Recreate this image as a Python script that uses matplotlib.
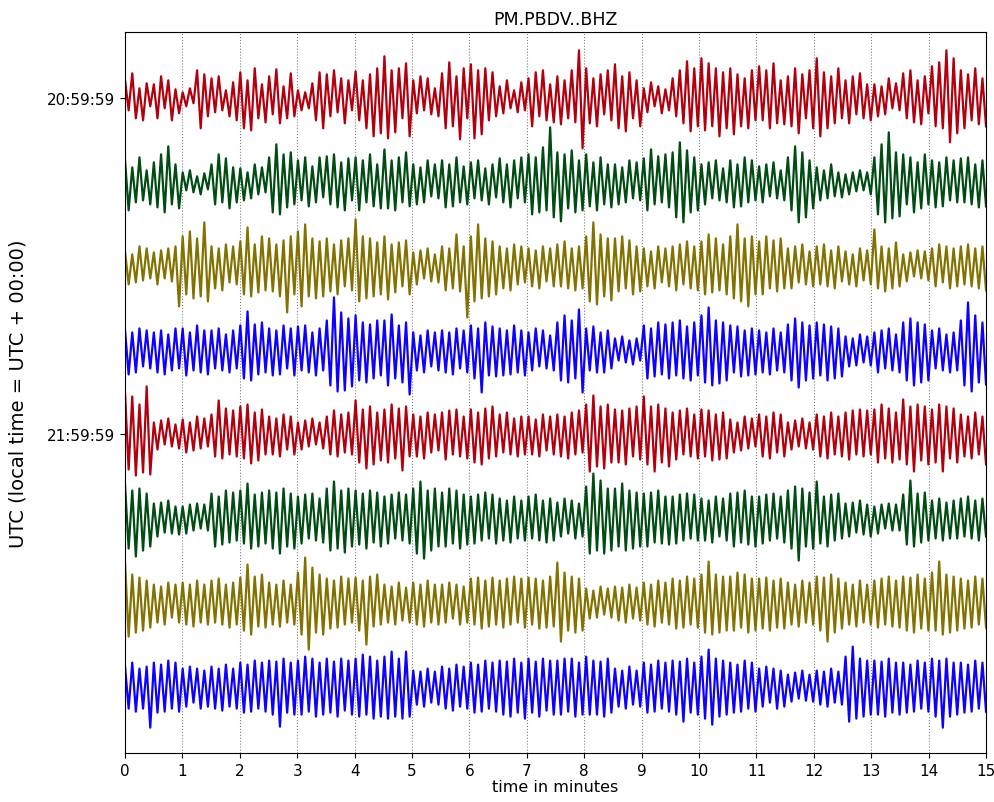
import numpy as np
import matplotlib
matplotlib.use("Agg")
import matplotlib.pyplot as plt

# extrema of each 15-minute trace, 8 per half minute, in screen counts
# (trace spacing = 84 counts)
trace_0 = [
    18, -12, 25, -20, 10, -22, 15, -8, 14, -20, 22, -10, 18, -22, 9, -15,
    6, -8, 10, -5, 28, -30, 24, -18, 20, -14, 22, -12, 8, -18, 16, -22,
    26, -30, 18, -32, 30, -20, 14, -24, 22, -16, 29, -25, 12, -20, 25, -18,
    8, -12, 6, -10, 15, -22, 26, -30, 24, -18, 28, -14, 20, -25, 18, -12,
    27, -22, 18, -30, 24, -38, 30, -35, 42, -40, 28, -34, 30, -20, 35, -38,
    18, -15, 22, -12, 20, -16, 10, -18, 25, -30, 36, -28, 22, -41, 30, -20,
    34, -40, 28, -36, 30, -22, 26, -18, 12, -15, 18, -10, 8, -14, 16, -12,
    20, -28, 26, -18, 28, -22, 14, -24, 22, -26, 18, -20, 28, -24, 48, -50,
    30, -25, 20, -28, 24, -16, 28, -22, 34, -30, 22, -33, 26, -20, 18, -28,
    10, -14, 16, -8, 12, -15, 9, -12, 20, -18, 28, -25, 37, -33, 30, -28,
    40, -32, 35, -28, 30, -38, 26, -30, 30, -36, 24, -28, 20, -30, 28, -22,
    32, -22, 28, -30, 35, -25, 18, -26, 22, -28, 30, -35, 24, -20, 28, -30,
    40, -38, 26, -30, 22, -25, 30, -20, 18, -25, 22, -16, 25, -20, 14, -22,
    14, -18, 12, -16, 20, -10, 15, -12, 25, -20, 28, -24, 18, -26, 22, -15,
    32, -28, 36, -30, 48, -44, 40, -35, 28, -30, 24, -22, 30, -26, 20, -28,
]
trace_1 = [
    22, -28, 15, -20, 25, -18, 12, -22, 20, -25, 28, -30, 36, -22, 18, -26,
    10, -8, 12, -10, 6, -12, 9, -7, 18, -22, 28, -20, 24, -26, 15, -20,
    14, -18, 10, -16, 18, -12, 15, -10, 25, -30, 38, -32, 28, -25, 30, -22,
    22, -18, 25, -24, 16, -20, 25, -15, 26, -22, 28, -25, 20, -28, 24, -18,
    25, -28, 22, -20, 28, -24, 18, -26, 33, -26, 22, -28, 25, -20, 30, -24,
    18, -22, 15, -20, 22, -14, 18, -16, 22, -25, 18, -24, 25, -20, 16, -22,
    20, -16, 22, -18, 14, -22, 18, -15, 24, -20, 18, -25, 22, -16, 25, -20,
    28, -32, 25, -30, 35, -28, 55, -35, 30, -39, 28, -26, 32, -30, 22, -28,
    28, -24, 20, -28, 25, -22, 18, -25, 18, -22, 15, -20, 22, -16, 20, -18,
    24, -28, 33, -22, 26, -20, 28, -25, 30, -35, 40, -40, 32, -30, 25, -28,
    18, -22, 20, -16, 22, -18, 14, -20, 22, -25, 18, -24, 25, -20, 22, -18,
    16, -20, 18, -14, 20, -16, 12, -18, 25, -28, 36, -40, 30, -35, 22, -26,
    15, -18, 12, -16, 18, -14, 10, -15, 8, -12, 10, -9, 12, -8, 10, -12,
    25, -32, 38, -40, 50, -36, 30, -34, 28, -22, 25, -30, 20, -26, 28, -22,
    22, -25, 20, -24, 25, -18, 22, -20, 24, -20, 25, -22, 18, -25, 22, -24,
]
trace_2 = [
    15, -18, 12, -16, 20, -14, 18, -12, 14, -18, 16, -12, 18, -15, 20, -40,
    30, -28, 35, -32, 28, -30, 44, -35, 20, -22, 18, -24, 22, -16, 20, -18,
    25, -28, 39, -30, 22, -26, 30, -24, 28, -25, 22, -30, 26, -46, 30, -28,
    35, -40, 42, -30, 28, -32, 25, -30, 28, -25, 22, -28, 26, -20, 28, -24,
    47, -35, 30, -32, 28, -30, 24, -28, 30, -33, 22, -26, 24, -20, 26, -28,
    14, -18, 16, -12, 18, -15, 12, -16, 20, -24, 18, -22, 32, -25, 20, -51,
    30, -35, 42, -32, 28, -30, 25, -28, 20, -22, 18, -24, 22, -18, 20, -16,
    18, -20, 16, -22, 20, -15, 18, -20, 22, -20, 25, -22, 18, -24, 20, -22,
    30, -35, 44, -38, 32, -30, 28, -34, 28, -25, 30, -22, 26, -28, 20, -25,
    18, -20, 15, -22, 20, -16, 18, -20, 20, -24, 22, -18, 25, -22, 20, -24,
    25, -28, 32, -26, 28, -24, 22, -28, 30, -32, 42, -35, 28, -40, 30, -28,
    25, -28, 30, -22, 26, -25, 28, -22, 18, -22, 20, -16, 22, -18, 15, -20,
    20, -18, 22, -20, 16, -22, 20, -15, 15, -18, 12, -20, 18, -14, 16, -18,
    37, -22, 20, -25, 18, -22, 24, -20, 12, -15, 14, -10, 16, -12, 15, -14,
    18, -20, 22, -16, 20, -22, 18, -20, 20, -18, 22, -20, 18, -22, 20, -24,
]
trace_3 = [
    20, -24, 18, -22, 22, -16, 20, -18, 18, -22, 20, -24, 16, -20, 22, -18,
    22, -25, 18, -20, 25, -22, 20, -24, 20, -18, 22, -20, 16, -22, 20, -18,
    25, -28, 39, -30, 26, -24, 28, -22, 22, -25, 20, -24, 25, -18, 22, -25,
    24, -20, 25, -22, 18, -25, 22, -20, 30, -35, 53, -41, 38, -40, 32, -36,
    35, -30, 28, -32, 26, -28, 30, -25, 30, -35, 36, -28, 25, -32, 28, -44,
    18, -20, 15, -22, 20, -16, 18, -20, 20, -22, 18, -24, 22, -18, 20, -22,
    25, -28, 22, -42, 28, -25, 24, -26, 22, -25, 20, -24, 25, -22, 20, -25,
    18, -20, 22, -16, 20, -18, 15, -20, 28, -30, 35, -32, 30, -28, 41, -42,
    22, -20, 24, -22, 18, -22, 20, -18, 12, -10, 14, -12, 10, -14, 12, -10,
    25, -28, 22, -26, 28, -24, 26, -28, 28, -25, 30, -28, 24, -30, 28, -25,
    35, -32, 43, -35, 30, -33, 28, -30, 25, -22, 24, -26, 20, -25, 22, -24,
    20, -22, 18, -24, 22, -20, 18, -22, 26, -30, 32, -37, 28, -30, 25, -28,
    28, -25, 26, -30, 24, -28, 22, -26, 14, -16, 12, -15, 16, -12, 14, -15,
    18, -22, 20, -18, 22, -20, 16, -22, 28, -30, 32, -35, 28, -32, 26, -30,
    20, -18, 22, -20, 16, -22, 18, -20, 30, -35, 48, -41, 35, -32, 28, -34,
]
trace_4 = [
    41, -35, 38, -41, 30, -38, 48, -40, 12, -15, 14, -10, 16, -12, 10, -14,
    15, -18, 12, -16, 18, -14, 16, -12, 20, -22, 34, -24, 26, -20, 24, -22,
    28, -24, 30, -29, 22, -26, 25, -20, 18, -20, 16, -22, 20, -15, 18, -20,
    12, -15, 14, -12, 16, -10, 12, -14, 18, -20, 24, -22, 20, -18, 22, -20,
    34, -28, 25, -34, 28, -30, 22, -26, 25, -28, 30, -24, 26, -36, 28, -22,
    20, -22, 18, -24, 22, -18, 20, -16, 22, -25, 24, -20, 25, -22, 18, -24,
    25, -28, 22, -30, 26, -24, 28, -22, 20, -18, 22, -20, 16, -22, 18, -20,
    18, -20, 15, -22, 20, -16, 18, -20, 20, -22, 18, -24, 22, -20, 24, -18,
    30, -37, 39, -32, 28, -34, 30, -28, 25, -28, 24, -30, 26, -22, 28, -25,
    38, -30, 28, -37, 30, -28, 26, -32, 22, -25, 24, -20, 26, -22, 20, -24,
    25, -22, 24, -26, 20, -25, 22, -24, 15, -18, 12, -16, 18, -14, 16, -12,
    20, -22, 18, -24, 22, -18, 20, -22, 12, -15, 14, -12, 16, -14, 12, -15,
    20, -22, 18, -24, 22, -20, 18, -22, 22, -25, 24, -20, 25, -22, 24, -20,
    25, -28, 30, -24, 26, -28, 22, -25, 35, -30, 28, -37, 30, -26, 28, -30,
    25, -28, 30, -37, 28, -24, 26, -28, 20, -22, 18, -24, 22, -20, 18, -30,
]
trace_5 = [
    33, -30, 28, -38, 30, -32, 25, -28, 15, -18, 16, -14, 18, -15, 12, -16,
    12, -15, 14, -12, 15, -10, 14, -12, 25, -28, 22, -26, 28, -24, 26, -22,
    28, -25, 35, -30, 24, -28, 26, -25, 28, -30, 26, -35, 30, -28, 25, -30,
    22, -25, 24, -20, 25, -22, 20, -24, 30, -32, 37, -30, 28, -34, 30, -28,
    28, -26, 25, -30, 28, -24, 26, -28, 22, -25, 24, -20, 26, -22, 24, -25,
    30, -35, 37, -40, 28, -32, 30, -28, 26, -28, 30, -25, 28, -30, 24, -26,
    22, -25, 24, -22, 26, -20, 24, -25, 20, -22, 18, -24, 22, -20, 18, -22,
    22, -20, 24, -22, 18, -24, 20, -22, 16, -18, 20, -15, 18, -20, 15, -18,
    32, -35, 45, -32, 38, -35, 30, -32, 30, -28, 35, -32, 28, -30, 26, -28,
    25, -28, 26, -24, 28, -25, 22, -26, 22, -25, 24, -22, 25, -20, 24, -22,
    20, -22, 18, -24, 22, -18, 20, -22, 25, -28, 26, -24, 28, -26, 22, -28,
    22, -25, 24, -22, 25, -20, 22, -24, 28, -30, 32, -42, 30, -28, 26, -30,
    37, -25, 22, -28, 24, -22, 25, -20, 15, -18, 16, -14, 18, -16, 14, -18,
    12, -15, 14, -10, 15, -12, 14, -12, 24, -26, 38, -28, 25, -24, 26, -22,
    18, -20, 20, -22, 16, -20, 18, -20, 20, -18, 22, -20, 18, -22, 20, -18,
]
trace_6 = [
    40, -34, 28, -30, 25, -28, 22, -25, 18, -20, 16, -22, 20, -15, 18, -20,
    20, -22, 18, -24, 22, -20, 18, -22, 22, -20, 24, -22, 18, -25, 20, -22,
    25, -28, 38, -32, 26, -24, 28, -25, 20, -22, 18, -24, 22, -20, 18, -22,
    30, -32, 45, -47, 35, -30, 28, -32, 24, -26, 22, -25, 26, -22, 24, -20,
    25, -28, 22, -42, 26, -24, 28, -22, 18, -20, 16, -22, 20, -18, 15, -20,
    20, -22, 18, -24, 22, -20, 18, -22, 18, -20, 20, -16, 18, -22, 16, -20,
    24, -22, 25, -26, 22, -24, 25, -22, 22, -25, 24, -22, 26, -20, 24, -25,
    25, -22, 24, -26, 22, -25, 26, -24, 40, -39, 30, -28, 26, -30, 24, -28,
    14, -16, 12, -15, 16, -12, 14, -15, 16, -18, 15, -20, 18, -16, 15, -18,
    20, -22, 18, -24, 22, -20, 20, -22, 24, -26, 22, -25, 26, -22, 24, -25,
    28, -30, 41, -32, 28, -30, 26, -28, 26, -28, 30, -25, 28, -30, 24, -28,
    24, -26, 25, -28, 22, -25, 24, -26, 20, -22, 18, -24, 22, -20, 20, -22,
    26, -28, 25, -39, 28, -30, 24, -26, 20, -22, 18, -24, 22, -20, 18, -22,
    22, -25, 24, -22, 26, -24, 22, -25, 26, -28, 25, -30, 28, -26, 24, -28,
    30, -28, 41, -32, 28, -30, 26, -28, 24, -26, 22, -25, 26, -22, 24, -25,
]
trace_7 = [
    20, -22, 24, -25, 18, -22, 20, -41, 24, -26, 22, -25, 26, -22, 24, -25,
    18, -20, 20, -16, 18, -22, 16, -20, 20, -22, 18, -24, 22, -20, 18, -22,
    24, -26, 22, -25, 26, -22, 24, -25, 26, -28, 25, -40, 28, -26, 24, -28,
    26, -28, 30, -25, 28, -30, 24, -28, 28, -26, 25, -30, 28, -24, 26, -28,
    28, -30, 32, -28, 30, -32, 26, -30, 30, -32, 35, -30, 28, -32, 35, -30,
    16, -18, 15, -20, 18, -16, 15, -18, 20, -22, 18, -24, 22, -20, 20, -22,
    24, -26, 22, -25, 26, -22, 24, -25, 26, -28, 25, -30, 28, -26, 24, -32,
    28, -26, 25, -30, 28, -24, 26, -28, 26, -28, 28, -25, 28, -30, 24, -28,
    30, -28, 26, -28, 25, -30, 28, -26, 18, -20, 16, -22, 20, -18, 16, -20,
    24, -26, 22, -25, 26, -22, 24, -25, 26, -28, 25, -35, 28, -26, 24, -28,
    30, -32, 37, -38, 28, -30, 26, -28, 24, -26, 22, -25, 26, -22, 24, -25,
    18, -20, 20, -16, 18, -22, 16, -20, 12, -15, 14, -12, 16, -14, 12, -15,
    16, -18, 15, -20, 18, -16, 15, -18, 30, -35, 40, -32, 28, -30, 26, -28,
    26, -28, 25, -30, 28, -26, 24, -28, 24, -26, 22, -25, 26, -22, 24, -25,
    28, -30, 26, -41, 28, -30, 24, -28, 24, -26, 22, -25, 26, -22, 24, -25,
]

traces = [trace_0, trace_1, trace_2, trace_3, trace_4, trace_5, trace_6, trace_7]
colors = ["#B2000F", "#004C12", "#847200", "#0E01FF"]
hour_labels = ["20:59:59", "21:59:59"]
minutes = list(range(16))
spacing = 84.0

fig = plt.figure(figsize=(9.94, 8.03), dpi=100)
ax = fig.add_axes([0.1258, 0.061, 0.8662, 0.898])

for i, tr in enumerate(traces):
    vals = np.array(tr, dtype=float)
    t = np.linspace(0, 15, len(vals))
    ax.plot(t, -i + vals / spacing, color=colors[i % 4], lw=1.6)

ax.set_xlim(0, 15)
ax.set_ylim(-7.79, 0.79)
ax.set_xticks(minutes)
ax.set_yticks([0, -4])
ax.set_yticklabels(hour_labels)
ax.xaxis.grid(True, linestyle=":", color="gray", lw=0.8)
ax.tick_params(labelsize=11)

ax.set_title("PM.PBDV..BHZ", fontsize=12.5, pad=6)
ax.set_xlabel("time in minutes", fontsize=11.5, labelpad=1)
ax.set_ylabel("UTC (local time = UTC + 00:00)", fontsize=14)
ax.yaxis.set_label_coords(-0.113, 0.5)

fig.savefig("out.png", dpi=100)
